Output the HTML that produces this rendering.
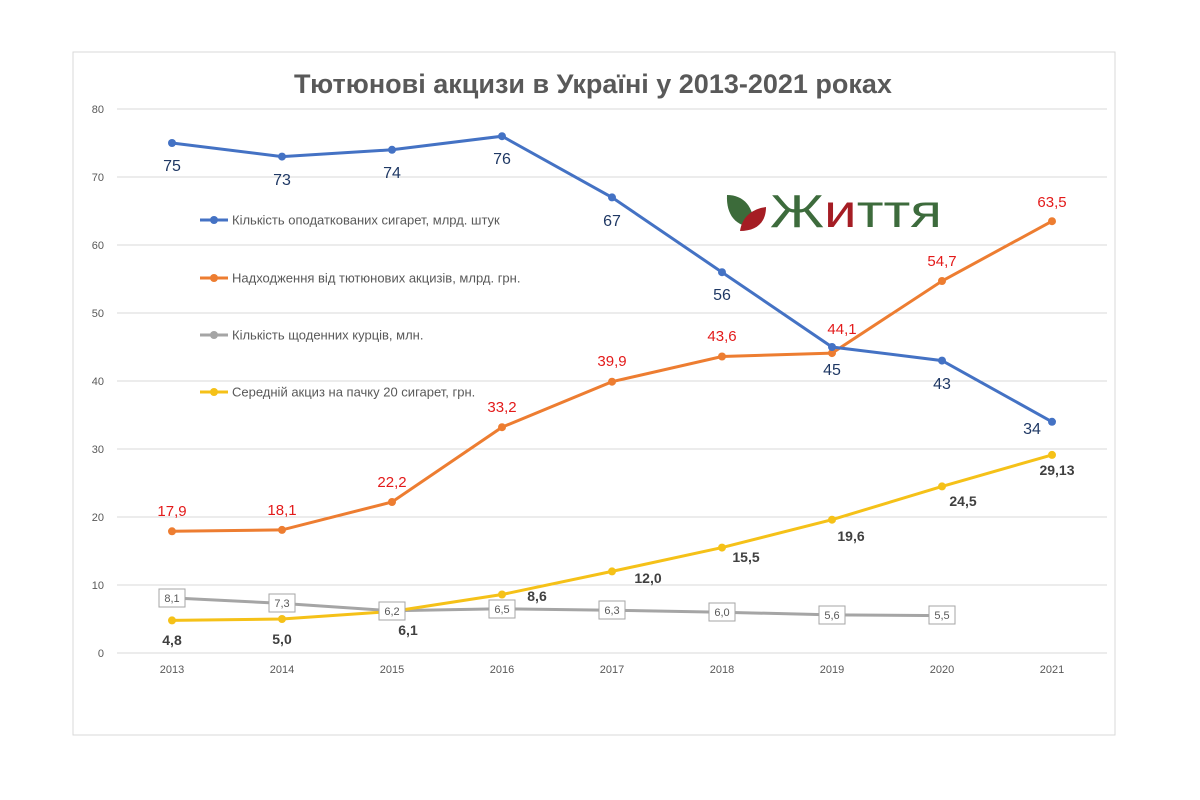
<!DOCTYPE html>
<html><head><meta charset="utf-8"><style>body{margin:0;background:#fff}svg{display:block}</style></head><body>
<svg width="1200" height="800" xmlns="http://www.w3.org/2000/svg" font-family="Liberation Sans, DejaVu Sans, sans-serif">
<rect x="73" y="52" width="1042" height="683" fill="#fff" stroke="#d9d9d9"/>
<text x="593" y="93" text-anchor="middle" font-size="27" font-weight="bold" fill="#595959">Тютюнові акцизи в Україні у 2013-2021 роках</text>
<g stroke="#d9d9d9" stroke-width="1">
<line x1="117" x2="1107" y1="109" y2="109"/><line x1="117" x2="1107" y1="177" y2="177"/><line x1="117" x2="1107" y1="245" y2="245"/><line x1="117" x2="1107" y1="313" y2="313"/><line x1="117" x2="1107" y1="381" y2="381"/><line x1="117" x2="1107" y1="449" y2="449"/><line x1="117" x2="1107" y1="517" y2="517"/><line x1="117" x2="1107" y1="585" y2="585"/><line x1="117" x2="1107" y1="653" y2="653"/>
</g>
<g font-size="11" fill="#595959" text-anchor="end">
<text x="104" y="113">80</text><text x="104" y="181">70</text><text x="104" y="249">60</text><text x="104" y="317">50</text><text x="104" y="385">40</text><text x="104" y="453">30</text><text x="104" y="521">20</text><text x="104" y="589">10</text><text x="104" y="657">0</text>
</g>
<g font-size="11" fill="#595959" text-anchor="middle">
<text x="172" y="673">2013</text><text x="282" y="673">2014</text><text x="392" y="673">2015</text><text x="502" y="673">2016</text><text x="612" y="673">2017</text><text x="722" y="673">2018</text><text x="832" y="673">2019</text><text x="942" y="673">2020</text><text x="1052" y="673">2021</text>
</g>
<!-- logo -->
<g transform="translate(726,193)">
<path d="M1 2 C18 2 28 14 28 34 C10 34 0 22 1 2Z" fill="#3c6b3a"/>
<path d="M14 38 C16 24 26 16 40 14 C40 30 30 38 14 38Z" fill="#a51d24"/>
</g>
<text x="770" y="227" font-size="46" textLength="172" lengthAdjust="spacingAndGlyphs" font-family="Liberation Sans, sans-serif" fill="#3d6b3c">Ж<tspan fill="#a51d24">и</tspan>ття</text>
<!-- gray -->
<polyline fill="none" stroke="#a5a5a5" stroke-width="3" points="172,597.9 282,603.4 392,610.8 502,608.8 612,610.2 722,612.2 832,614.9 942,615.6"/>
<!-- yellow -->
<polyline fill="none" stroke="#f5c118" stroke-width="3" points="172,620.4 282,619 392,611.5 502,594.5 612,571.4 722,547.6 832,519.7 942,486.4 1052,454.9"/>
<g fill="#f5c118"><circle cx="172" cy="620.4" r="4"/><circle cx="282" cy="619" r="4"/><circle cx="392" cy="611.5" r="4"/><circle cx="502" cy="594.5" r="4"/><circle cx="612" cy="571.4" r="4"/><circle cx="722" cy="547.6" r="4"/><circle cx="832" cy="519.7" r="4"/><circle cx="942" cy="486.4" r="4"/><circle cx="1052" cy="454.9" r="4"/></g>
<!-- orange -->
<polyline fill="none" stroke="#ed7d31" stroke-width="3" points="172,531.3 282,529.9 392,502 502,427.2 612,381.7 722,356.5 832,353.1 942,281 1052,221.2"/>
<g fill="#ed7d31"><circle cx="172" cy="531.3" r="4"/><circle cx="282" cy="529.9" r="4"/><circle cx="392" cy="502" r="4"/><circle cx="502" cy="427.2" r="4"/><circle cx="612" cy="381.7" r="4"/><circle cx="722" cy="356.5" r="4"/><circle cx="832" cy="353.1" r="4"/><circle cx="942" cy="281" r="4"/><circle cx="1052" cy="221.2" r="4"/></g>
<!-- blue -->
<polyline fill="none" stroke="#4472c4" stroke-width="3" points="172,143 282,156.6 392,149.8 502,136.2 612,197.4 722,272.2 832,347 942,360.6 1052,421.8"/>
<g fill="#4472c4"><circle cx="172" cy="143" r="4"/><circle cx="282" cy="156.6" r="4"/><circle cx="392" cy="149.8" r="4"/><circle cx="502" cy="136.2" r="4"/><circle cx="612" cy="197.4" r="4"/><circle cx="722" cy="272.2" r="4"/><circle cx="832" cy="347" r="4"/><circle cx="942" cy="360.6" r="4"/><circle cx="1052" cy="421.8" r="4"/></g>
<!-- blue labels -->
<g font-size="16" fill="#1f3864" text-anchor="middle">
<text x="172" y="171">75</text><text x="282" y="185">73</text><text x="392" y="178">74</text><text x="502" y="164">76</text><text x="612" y="226">67</text><text x="722" y="300">56</text><text x="832" y="375">45</text><text x="942" y="389">43</text><text x="1032" y="434">34</text>
</g>
<g font-size="15" fill="#e31a1a" text-anchor="middle">
<text x="172" y="516">17,9</text><text x="282" y="515">18,1</text><text x="392" y="487">22,2</text><text x="502" y="412">33,2</text><text x="612" y="366">39,9</text><text x="722" y="341">43,6</text><text x="842" y="334">44,1</text><text x="942" y="266">54,7</text><text x="1052" y="207">63,5</text>
</g>
<g font-size="14" font-weight="bold" fill="#404040" text-anchor="middle">
<text x="172" y="645">4,8</text><text x="282" y="644">5,0</text><text x="408" y="635">6,1</text><text x="537" y="601">8,6</text><text x="648" y="583">12,0</text><text x="746" y="562">15,5</text><text x="851" y="541">19,6</text><text x="963" y="506">24,5</text><text x="1057" y="475">29,13</text>
</g>
<g font-size="11" fill="#595959" text-anchor="middle">
<g><rect x="159" y="589" width="26" height="18" fill="#fff" stroke="#a5a5a5"/><text x="172" y="602">8,1</text></g>
<g><rect x="269" y="594" width="26" height="18" fill="#fff" stroke="#a5a5a5"/><text x="282" y="607">7,3</text></g>
<g><rect x="379" y="602" width="26" height="18" fill="#fff" stroke="#a5a5a5"/><text x="392" y="615">6,2</text></g>
<g><rect x="489" y="600" width="26" height="18" fill="#fff" stroke="#a5a5a5"/><text x="502" y="613">6,5</text></g>
<g><rect x="599" y="601" width="26" height="18" fill="#fff" stroke="#a5a5a5"/><text x="612" y="614">6,3</text></g>
<g><rect x="709" y="603" width="26" height="18" fill="#fff" stroke="#a5a5a5"/><text x="722" y="616">6,0</text></g>
<g><rect x="819" y="606" width="26" height="18" fill="#fff" stroke="#a5a5a5"/><text x="832" y="619">5,6</text></g>
<g><rect x="929" y="606" width="26" height="18" fill="#fff" stroke="#a5a5a5"/><text x="942" y="619">5,5</text></g>
</g>
<!-- legend -->
<g font-size="13" fill="#595959">
<line x1="200" x2="228" y1="220" y2="220" stroke="#4472c4" stroke-width="3"/><circle cx="214" cy="220" r="4" fill="#4472c4"/><text x="232" y="224.5">Кількість оподаткованих сигарет, млрд. штук</text>
<line x1="200" x2="228" y1="278" y2="278" stroke="#ed7d31" stroke-width="3"/><circle cx="214" cy="278" r="4" fill="#ed7d31"/><text x="232" y="282.5">Надходження від тютюнових акцизів, млрд. грн.</text>
<line x1="200" x2="228" y1="335" y2="335" stroke="#a5a5a5" stroke-width="3"/><circle cx="214" cy="335" r="4" fill="#a5a5a5"/><text x="232" y="339.5">Кількість щоденних курців, млн.</text>
<line x1="200" x2="228" y1="392" y2="392" stroke="#f5c118" stroke-width="3"/><circle cx="214" cy="392" r="4" fill="#f5c118"/><text x="232" y="396.5">Середній акциз на пачку 20 сигарет, грн.</text>
</g>
</svg>
</body></html>
